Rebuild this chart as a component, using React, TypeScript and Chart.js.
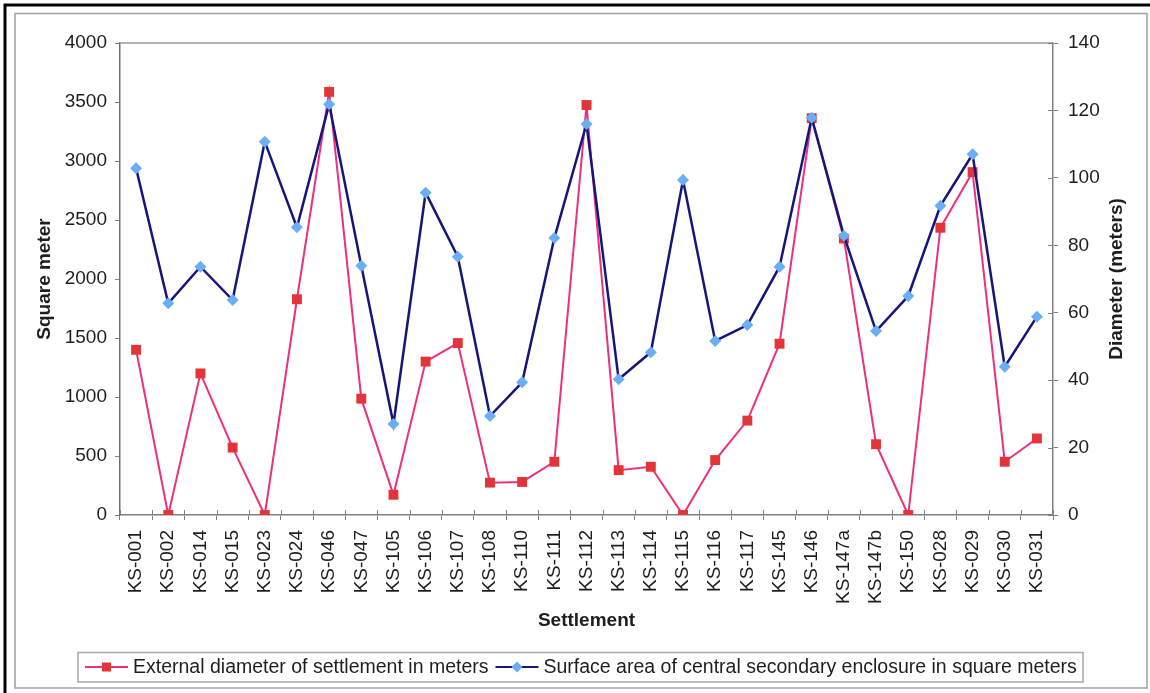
import React, { useEffect, useRef } from 'react';
import { Chart, registerables } from 'chart.js';

Chart.register(...registerables);

// ---------- data ----------
const categories = [
  'KS-001', 'KS-002', 'KS-014', 'KS-015', 'KS-023', 'KS-024', 'KS-046', 'KS-047',
  'KS-105', 'KS-106', 'KS-107', 'KS-108', 'KS-110', 'KS-111', 'KS-112', 'KS-113',
  'KS-114', 'KS-115', 'KS-116', 'KS-117', 'KS-145', 'KS-146', 'KS-147a', 'KS-147b',
  'KS-150', 'KS-028', 'KS-029', 'KS-030', 'KS-031',
];

// External diameter (meters) – right axis
const externalDiameter = [
  49, 0, 42, 20, 0, 64, 125.5, 34.5,
  6, 45.5, 51, 9.6, 9.8, 15.8, 121.6, 13.3,
  14.3, 0, 16.3, 28, 50.8, 117.7, 82, 21,
  0, 85.2, 101.7, 15.8, 22.7,
];

// Surface area of central secondary enclosure (square meters) – left axis
const enclosureArea = [
  2938, 1794, 2104, 1822, 3164, 2438, 3480, 2113,
  771, 2731, 2189, 839, 1124, 2347, 3314, 1150,
  1379, 2839, 1475, 1610, 2104, 3367, 2367, 1559,
  1856, 2621, 3057, 1257, 1681,
];

const seriesNames = [
  'External diameter of settlement in meters',
  'Surface area of central secondary enclosure in square meters',
];

const leftAxisMax = 4000;
const leftAxisStep = 500;
const rightAxisMax = 140;
const rightAxisStep = 20;

const xTitle = 'Settlement';
const leftTitle = 'Square meter';
const rightTitle = 'Diameter (meters)';

// ---------- styles ----------
const FONT = "'Liberation Sans', Arial, Helvetica, sans-serif";
const TEXT = '#1e1e1e';
const AXIS = '#808080';
const PINK_LINE = '#ee2f7e';
const PINK_MARK = '#e3343a';
const BLUE_LINE = '#15157a';
const BLUE_MARK = '#6aaef5';

function drawSquare(ctx: CanvasRenderingContext2D, x: number, y: number, s: number, c: string) {
  ctx.fillStyle = c;
  ctx.fillRect(x - s / 2, y - s / 2, s, s);
}
function drawDiamond(ctx: CanvasRenderingContext2D, x: number, y: number, r: number, c: string) {
  ctx.fillStyle = c;
  ctx.beginPath();
  ctx.moveTo(x, y - r);
  ctx.lineTo(x + r, y);
  ctx.lineTo(x, y + r);
  ctx.lineTo(x - r, y);
  ctx.closePath();
  ctx.fill();
}

const decorPlugin = {
  id: 'decor',
  beforeDraw(chart: any) {
    const ctx: CanvasRenderingContext2D = chart.ctx;
    ctx.save();
    ctx.fillStyle = '#ffffff';
    ctx.fillRect(0, 0, chart.width, chart.height);
    // outer black border (top/left)
    ctx.strokeStyle = '#000';
    ctx.lineWidth = 3;
    ctx.beginPath();
    ctx.moveTo(5, chart.height);
    ctx.lineTo(5, 5);
    ctx.lineTo(chart.width, 5);
    ctx.stroke();
    // inner gray frame
    ctx.strokeStyle = '#a0a0a0';
    ctx.lineWidth = 1.5;
    ctx.strokeRect(15, 13.5, 1132, 674.5);
    ctx.restore();
  },
  beforeDatasetsDraw(chart: any) {
    const ctx: CanvasRenderingContext2D = chart.ctx;
    const a = chart.chartArea;
    ctx.save();
    // top border of plot area
    ctx.strokeStyle = '#9a9a9a';
    ctx.lineWidth = 1.5;
    ctx.beginPath();
    ctx.moveTo(a.left, a.top);
    ctx.lineTo(a.right, a.top);
    ctx.stroke();
    // inner halves of crossing tick marks
    ctx.strokeStyle = AXIS;
    ctx.lineWidth = 1;
    const n = categories.length;
    for (let i = 0; i <= n; i++) {
      const px = Math.round(a.left + (i * (a.right - a.left)) / n) + 0.5;
      ctx.beginPath();
      ctx.moveTo(px, a.bottom - 5);
      ctx.lineTo(px, a.bottom);
      ctx.stroke();
    }
    const yr = chart.scales.yR;
    for (let v = 0; v <= rightAxisMax; v += rightAxisStep) {
      const py = Math.round(yr.getPixelForValue(v)) + 0.5;
      ctx.beginPath();
      ctx.moveTo(a.right - 5, py);
      ctx.lineTo(a.right, py);
      ctx.stroke();
    }
    ctx.restore();
  },
  afterDraw(chart: any) {
    const ctx: CanvasRenderingContext2D = chart.ctx;
    const a = chart.chartArea;
    ctx.save();
    ctx.fillStyle = TEXT;
    ctx.font = `bold 19px ${FONT}`;
    ctx.textAlign = 'center';
    ctx.textBaseline = 'middle';
    // x title
    ctx.fillText(xTitle, (a.left + a.right) / 2, 621);
    // left title
    ctx.save();
    ctx.translate(45, (a.top + a.bottom) / 2);
    ctx.rotate(-Math.PI / 2);
    ctx.fillText(leftTitle, 0, 0);
    ctx.restore();
    // right title
    ctx.save();
    ctx.translate(1117, (a.top + a.bottom) / 2);
    ctx.rotate(-Math.PI / 2);
    ctx.fillText(rightTitle, 0, 0);
    ctx.restore();

    // legend
    ctx.strokeStyle = '#a8a8a8';
    ctx.lineWidth = 1.5;
    ctx.strokeRect(78, 652.5, 1005, 29.5);
    ctx.font = `19.5px ${FONT}`;
    ctx.textAlign = 'left';
    const ly = 667;
    let x = 85;
    // item 1
    ctx.strokeStyle = PINK_LINE;
    ctx.lineWidth = 2;
    ctx.beginPath();
    ctx.moveTo(x, ly);
    ctx.lineTo(x + 43, ly);
    ctx.stroke();
    drawSquare(ctx, x + 21.5, ly, 9, PINK_MARK);
    x += 48;
    ctx.fillStyle = TEXT;
    ctx.fillText(seriesNames[0], x, ly + 1);
    x += ctx.measureText(seriesNames[0]).width + 7;
    // item 2
    ctx.strokeStyle = BLUE_LINE;
    ctx.lineWidth = 2;
    ctx.beginPath();
    ctx.moveTo(x, ly);
    ctx.lineTo(x + 43, ly);
    ctx.stroke();
    drawDiamond(ctx, x + 21.5, ly, 5.5, BLUE_MARK);
    x += 48;
    ctx.fillStyle = TEXT;
    ctx.fillText(seriesNames[1], x, ly + 1);
    ctx.restore();
  },
};

export default function App() {
  const ref = useRef<HTMLCanvasElement | null>(null);

  useEffect(() => {
    if (!ref.current) return;
    const chart = new Chart(ref.current, {
      type: 'line',
      data: {
        labels: categories,
        datasets: [
          {
            label: seriesNames[0],
            data: externalDiameter,
            yAxisID: 'yR',
            borderColor: PINK_LINE,
            borderWidth: 2,
            backgroundColor: PINK_MARK,
            pointStyle: 'rect',
            pointRadius: 7,
            pointBorderWidth: 0,
            pointBackgroundColor: PINK_MARK,
            pointBorderColor: PINK_MARK,
            tension: 0,
            order: 1,
          },
          {
            label: seriesNames[1],
            data: enclosureArea,
            yAxisID: 'y',
            borderColor: BLUE_LINE,
            borderWidth: 2.5,
            backgroundColor: BLUE_MARK,
            pointStyle: 'rectRot',
            pointRadius: 6,
            pointBorderWidth: 0,
            pointBackgroundColor: BLUE_MARK,
            pointBorderColor: BLUE_MARK,
            tension: 0,
            order: 0,
          },
        ],
      },
      options: {
        animation: false,
        responsive: false,
        maintainAspectRatio: false,
        layout: { padding: { top: 43, left: 0, right: 0, bottom: 0 } },
        plugins: {
          legend: { display: false },
          tooltip: { enabled: false },
          title: { display: false },
        },
        scales: {
          x: {
            type: 'category',
            offset: true,
            grid: {
              display: true,
              drawOnChartArea: false,
              offset: true,
              tickLength: 5,
              color: AXIS,
              lineWidth: 1,
            },
            border: { display: true, color: AXIS, width: 1.5 },
            ticks: {
              autoSkip: false,
              maxRotation: 90,
              minRotation: 90,
              padding: 10,
              color: TEXT,
              font: { family: FONT, size: 19 },
            },
            afterFit: (s: any) => {
              s.height = 178;
            },
          },
          y: {
            type: 'linear',
            position: 'left',
            min: 0,
            max: leftAxisMax,
            grid: {
              display: true,
              drawOnChartArea: false,
              tickLength: 5,
              color: AXIS,
              lineWidth: 1,
            },
            border: { display: true, color: '#707070', width: 1.5 },
            ticks: {
              stepSize: leftAxisStep,
              padding: 8,
              color: TEXT,
              font: { family: FONT, size: 19 },
              callback: (v: any) => String(v),
            },
            afterFit: (s: any) => {
              s.width = 120;
            },
          },
          yR: {
            type: 'linear',
            position: 'right',
            min: 0,
            max: rightAxisMax,
            grid: {
              display: true,
              drawOnChartArea: false,
              tickLength: 5,
              color: AXIS,
              lineWidth: 1,
            },
            border: { display: true, color: AXIS, width: 1.5 },
            ticks: {
              stepSize: rightAxisStep,
              padding: 10,
              color: TEXT,
              font: { family: FONT, size: 19 },
              callback: (v: any) => String(v),
            },
            afterFit: (s: any) => {
              s.width = 97;
            },
          },
        },
      },
      plugins: [decorPlugin],
    });
    return () => chart.destroy();
  }, []);

  return (
    <div style={{ position: 'fixed', left: 0, top: 0, width: 1150, height: 693, background: '#fff' }}>
      <canvas ref={ref} width={1150} height={693} style={{ display: 'block', width: 1150, height: 693 }} />
    </div>
  );
}
